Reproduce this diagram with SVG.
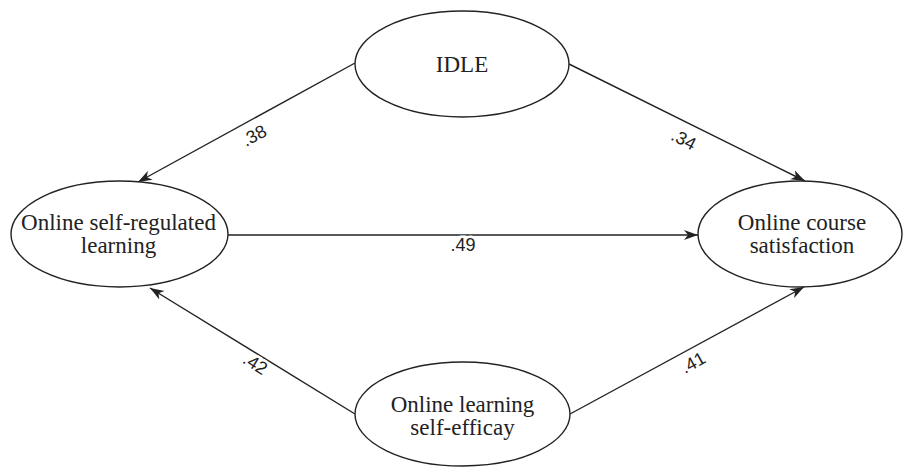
<svg xmlns="http://www.w3.org/2000/svg" width="903" height="468" viewBox="0 0 903 468">
<defs>
<style>
.node ellipse{fill:#fff;stroke:#222;stroke-width:1.4}
.node text{font-family:"Liberation Serif","Times New Roman",serif;font-size:23px;fill:#222;text-anchor:middle}
.edges line{stroke:#222;stroke-width:1.4;fill:none}
.lbl{font-family:"Liberation Sans",Arial,sans-serif;font-size:18px;fill:#222;text-anchor:middle}
.bg{stroke:#fff;stroke-width:5;paint-order:stroke}
</style>
<marker id="arr" markerWidth="15" markerHeight="11" refX="14" refY="5.5" orient="auto" markerUnits="userSpaceOnUse">
<path d="M0,0.5 L14,5.5 L0,10.5 L4,5.5 Z" fill="#222"/>
</marker>
</defs>
<rect width="903" height="468" fill="#fff"/>
<g class="edges">
<line x1="355" y1="63" x2="138" y2="182" marker-end="url(#arr)"/>
<line x1="569" y1="64" x2="805" y2="181" marker-end="url(#arr)"/>
<line x1="228" y1="235" x2="698" y2="235" marker-end="url(#arr)"/>
<line x1="355" y1="414" x2="150" y2="288" marker-end="url(#arr)"/>
<line x1="570" y1="414" x2="804" y2="287" marker-end="url(#arr)"/>
<text class="lbl" transform="translate(257,141) rotate(-28)">.38</text>
<text class="lbl" transform="translate(681,145) rotate(27)">.34</text>
<text class="lbl bg" x="463" y="251">.49</text>
<text class="lbl bg" transform="translate(252,369) rotate(32)">.42</text>
<text class="lbl bg" transform="translate(696,368) rotate(-29)">.41</text>
</g>
<g id="idle" class="node">
<ellipse cx="462" cy="64" rx="107" ry="53"/>
<text x="462" y="72">IDLE</text>
</g>
<g id="osrl" class="node">
<ellipse cx="119.5" cy="234" rx="108.5" ry="53"/>
<text x="118.5" y="230">Online self-regulated</text>
<text x="118.5" y="253">learning</text>
</g>
<g id="ocs" class="node">
<ellipse cx="800" cy="234" rx="102" ry="53"/>
<text x="802" y="230">Online course</text>
<text x="802" y="253">satisfaction</text>
</g>
<g id="olse" class="node">
<ellipse cx="462.5" cy="414" rx="107.5" ry="52"/>
<text x="462.5" y="412">Online learning</text>
<text x="462.5" y="435">self-efficay</text>
</g>
</svg>
